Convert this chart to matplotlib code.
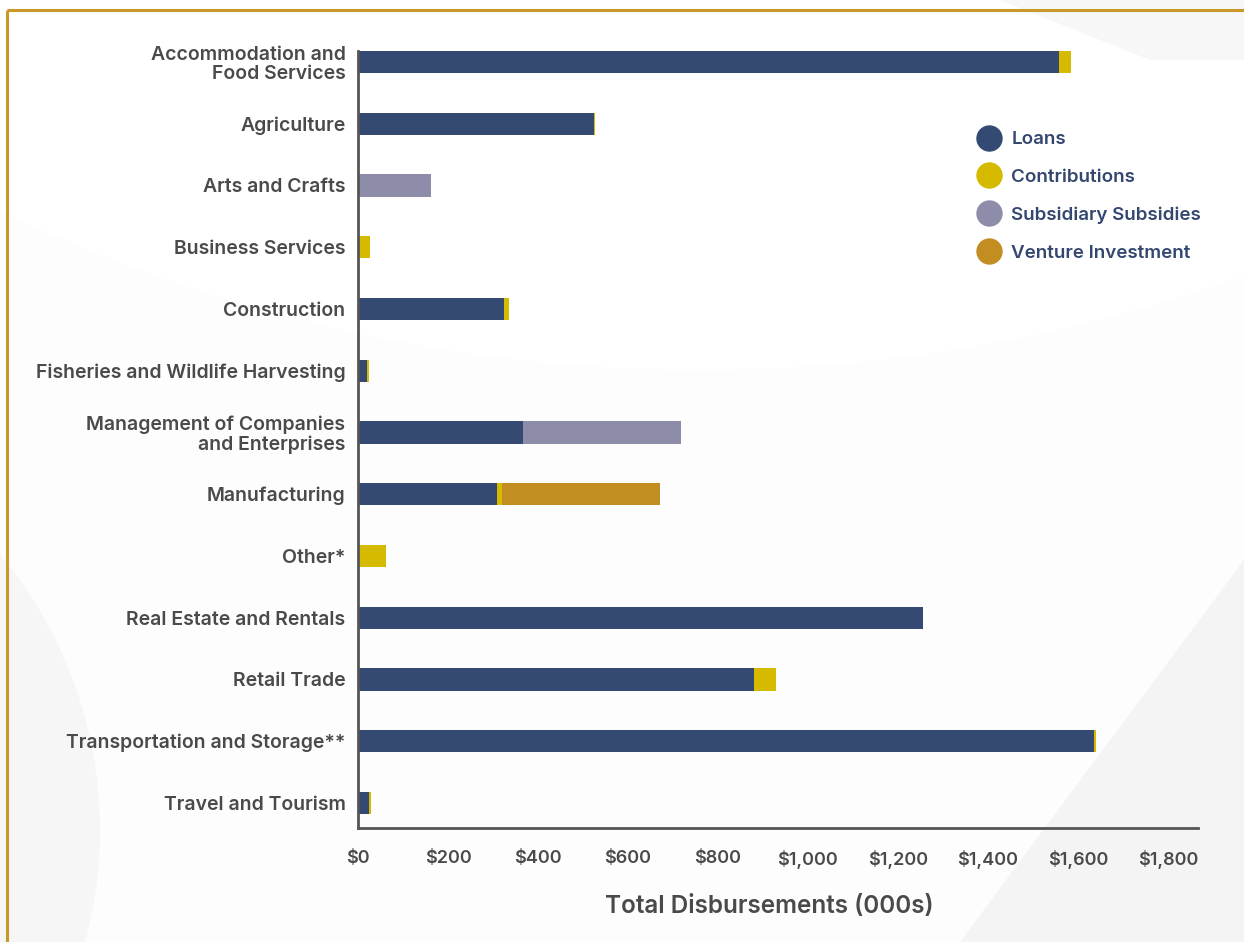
import matplotlib
matplotlib.use("Agg")
import matplotlib.pyplot as plt
from matplotlib.lines import Line2D
from matplotlib.patches import Circle, Polygon
import numpy as np

categories = [
    "Accommodation and\nFood Services",
    "Agriculture",
    "Arts and Crafts",
    "Business Services",
    "Construction",
    "Fisheries and Wildlife Harvesting",
    "Management of Companies\nand Enterprises",
    "Manufacturing",
    "Other*",
    "Real Estate and Rentals",
    "Retail Trade",
    "Transportation and Storage**",
    "Travel and Tourism",
]
loans =         [1558, 524,   0,  0, 324, 20, 367, 309,  0, 1256, 880, 1636, 24]
contributions = [  26,   2,   0, 27,  11,  4,   0,  11, 62,    0,  49,    4,  6]
subsidies =     [   0,   0, 162,  0,   0,  0, 351,   0,  0,    0,   0,    0,  0]
venture =       [   0,   0,   0,  0,   0,  0,   0, 351,  0,    0,   0,    0,  0]

series_names = ["Loans", "Contributions", "Subsidiary Subsidies", "Venture Investment"]
series_colors = ["#344a72", "#d5ba00", "#8d8daa", "#c28e22"]
xticks = [0, 200, 400, 600, 800, 1000, 1200, 1400, 1600, 1800]

FONT = ['Inter', 'DejaVu Sans']
plt.rcParams['font.family'] = FONT

fig = plt.figure(figsize=(12.44, 9.42), dpi=100)
fig.patch.set_facecolor("#fdfdfd")

# faint background shapes
bg = fig.add_axes([0, 0, 1, 1], zorder=-10)
bg.set_xlim(0, 1244); bg.set_ylim(942, 0); bg.axis("off")
bg.add_patch(Circle((700, -1250), 1620, facecolor="#ffffff", edgecolor="none"))
bg.add_patch(Polygon([[1244, 560], [1244, 942], [960, 942]], closed=True,
                     facecolor="#f4f4f4", edgecolor="none"))
bg.add_patch(Polygon([[1000, 0], [1244, 0], [1244, 60], [1150, 60]], closed=True,
                     facecolor="#f7f7f7", edgecolor="none"))
bg.add_patch(Circle((-330, 830), 430, facecolor="#f6f6f6", edgecolor="none"))
# gold border
bg.plot([7, 1244], [10, 10], color="#c9972a", lw=2.2, solid_capstyle="butt")
bg.plot([7, 7], [10, 942], color="#c9972a", lw=2.2, solid_capstyle="butt")

ax = fig.add_axes([358/1244, 114/942, 840/1244, 777/942])
ax.set_facecolor("none")

y = np.arange(len(categories))
h = 0.36
left = np.zeros(len(categories))
for vals, name, col in zip([loans, contributions, subsidies, venture], series_names, series_colors):
    v = np.array(vals, dtype=float)
    ax.barh(y, v, left=left, height=h, color=col, label=name, linewidth=0)
    left += v

ax.set_ylim(12.405, -0.178)
ax.set_xlim(0, 1867)
ax.set_yticks(y)
ax.set_yticklabels(categories, fontsize=14, fontweight="semibold", color="#4a4a4a",
                   linespacing=1.1)
ax.set_xticks(xticks)
ax.set_xticklabels([f"${v:,}" for v in xticks], fontsize=13, fontweight="semibold",
                   color="#4a4a4a")
ax.tick_params(axis="y", length=0, pad=9)
ax.tick_params(axis="x", length=0, pad=16)
for s in ["top", "right"]:
    ax.spines[s].set_visible(False)
for s in ["left", "bottom"]:
    ax.spines[s].set_color("#555555")
    ax.spines[s].set_linewidth(2)

ax.set_xlabel("Total Disbursements (000s)", fontsize=17.5, fontweight="semibold",
              color="#4a4a4a")
ax.xaxis.set_label_coords((769 - 358) / 840, -(905 - 828 + 2) / 777, transform=ax.transAxes)
ax.xaxis.label.set_va("center")

handles = [Line2D([0], [0], marker="o", linestyle="none", markersize=19,
                  markerfacecolor=c, markeredgecolor="none") for c in series_colors]
leg = fig.legend(handles, series_names, loc="upper left", bbox_to_anchor=(0.785, 0.861),
                 frameon=False, fontsize=13.5, handlelength=1.35, handletextpad=0.5,
                 labelspacing=1.1, borderpad=0, borderaxespad=0)
for t in leg.get_texts():
    t.set_color("#34486f")
    t.set_fontweight("semibold")

fig.savefig("out.png", dpi=100, facecolor=fig.get_facecolor())
